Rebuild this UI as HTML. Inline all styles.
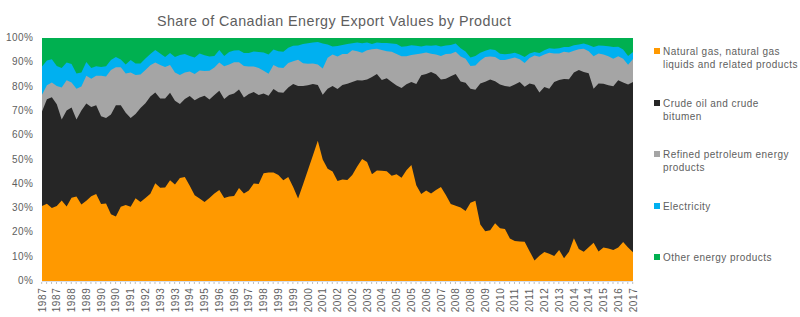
<!DOCTYPE html>
<html><head><meta charset="utf-8"><style>
html,body{margin:0;padding:0;background:#fff;width:800px;height:317px;overflow:hidden;position:relative;}
body{font-family:"Liberation Sans",sans-serif;color:#5E5E5E;}
svg{position:absolute;left:0;top:0;}
.title{position:absolute;left:157px;top:12px;font-size:14.3px;line-height:18px;letter-spacing:0.44px;white-space:nowrap;}
.yl{position:absolute;left:0;width:33.5px;text-align:right;font-size:10px;line-height:12px;letter-spacing:0.5px;}
.xl{position:absolute;top:293.5px;width:30px;height:12px;margin-left:-14.4px;text-align:center;font-size:10px;line-height:12px;letter-spacing:0.6px;transform:rotate(-90deg);transform-origin:50% 50%;}
.lsq{position:absolute;left:654px;width:6px;height:6px;}
.lt{position:absolute;left:663px;font-size:10px;line-height:13.2px;letter-spacing:0.45px;white-space:nowrap;}
</style></head><body>
<svg width="800" height="317" viewBox="0 0 800 317">
<rect x="42.0" y="38.0" width="591.0" height="243.0" fill="#00B050"/>
<polygon fill="#00B0F0" points="42.00,66.50 46.92,60.50 51.85,59.20 56.77,65.90 61.70,68.00 66.62,62.50 71.55,64.00 76.47,73.50 81.40,72.60 86.33,62.10 91.25,68.00 96.17,66.30 101.10,67.10 106.03,66.30 110.95,60.00 115.88,57.00 120.80,59.60 125.72,64.60 130.65,60.00 135.57,63.40 140.50,63.50 145.43,58.40 150.35,54.00 155.28,50.00 160.20,53.40 165.12,57.10 170.05,53.00 174.97,57.10 179.90,55.00 184.82,54.00 189.75,55.90 194.68,57.50 199.60,53.40 204.53,55.30 209.45,56.50 214.38,55.90 219.30,50.00 224.22,55.90 229.15,52.10 234.07,50.60 239.00,50.20 243.93,53.00 248.85,53.00 253.78,51.50 258.70,52.10 263.62,52.50 268.55,54.60 273.48,49.60 278.40,51.20 283.32,51.70 288.25,47.70 293.18,45.80 298.10,45.40 303.02,44.10 307.95,43.30 312.88,42.40 317.80,42.00 322.73,43.60 327.65,44.50 332.57,46.40 337.50,46.00 342.43,44.90 347.35,44.10 352.27,43.30 357.20,42.40 362.12,43.30 367.05,42.40 371.98,43.90 376.90,42.40 381.82,42.90 386.75,42.90 391.68,43.60 396.60,44.10 401.52,46.70 406.45,46.20 411.38,45.20 416.30,45.80 421.23,46.40 426.15,45.40 431.07,45.80 436.00,45.20 440.93,46.40 445.85,45.40 450.77,44.90 455.70,43.60 460.62,48.30 465.55,51.50 470.48,57.50 475.40,55.90 480.32,52.70 485.25,50.80 490.18,49.20 495.10,50.00 500.02,53.70 504.95,54.20 509.88,53.70 514.80,52.70 519.73,54.60 524.65,57.10 529.58,53.40 534.50,52.10 539.42,53.00 544.35,50.20 549.27,48.30 554.20,48.70 559.12,48.30 564.05,47.00 568.98,47.00 573.90,45.20 578.83,44.50 583.75,43.60 588.67,44.90 593.60,47.00 598.52,45.40 603.45,45.80 608.38,46.20 613.30,47.00 618.23,46.70 623.15,49.60 628.08,55.90 633.00,52.10 633.00,281.00 42.00,281.00"/>
<polygon fill="#A5A5A5" points="42.00,94.70 46.92,85.30 51.85,82.50 56.77,85.90 61.70,87.50 66.62,80.20 71.55,82.50 76.47,88.80 81.40,86.50 86.33,75.80 91.25,78.70 96.17,75.80 101.10,75.80 106.03,76.40 110.95,70.10 115.88,67.30 120.80,67.30 125.72,73.60 130.65,72.40 135.57,74.90 140.50,74.50 145.43,70.10 150.35,65.30 155.28,62.50 160.20,65.00 165.12,66.90 170.05,65.00 174.97,72.60 179.90,74.90 184.82,72.40 189.75,71.60 194.68,73.90 199.60,70.40 204.53,71.10 209.45,70.70 214.38,67.60 219.30,62.50 224.22,66.30 229.15,64.40 234.07,62.30 239.00,62.30 243.93,66.10 248.85,66.40 253.78,66.50 258.70,67.90 263.62,70.80 268.55,73.70 273.48,65.10 278.40,67.60 283.32,67.90 288.25,63.00 293.18,61.30 298.10,59.80 303.02,63.20 307.95,63.80 312.88,63.60 317.80,64.40 322.73,68.60 327.65,57.80 332.57,54.50 337.50,56.60 342.43,54.00 347.35,54.00 352.27,50.20 357.20,51.20 362.12,52.70 367.05,50.20 371.98,49.20 376.90,48.70 381.82,49.90 386.75,51.20 391.68,51.70 396.60,54.00 401.52,56.30 406.45,56.30 411.38,55.00 416.30,54.20 421.23,53.40 426.15,52.50 431.07,53.70 436.00,54.60 440.93,55.90 445.85,54.00 450.77,53.70 455.70,51.70 460.62,56.50 465.55,58.80 470.48,66.00 475.40,65.40 480.32,60.60 485.25,57.10 490.18,56.50 495.10,57.10 500.02,60.00 504.95,60.00 509.88,58.80 514.80,57.50 519.73,59.30 524.65,63.00 529.58,58.00 534.50,55.50 539.42,56.80 544.35,54.60 549.27,52.70 554.20,53.40 559.12,53.40 564.05,51.70 568.98,52.50 573.90,50.80 578.83,49.20 583.75,48.70 588.67,51.20 593.60,56.30 598.52,53.40 603.45,54.60 608.38,56.30 613.30,58.80 618.23,56.30 623.15,58.80 628.08,64.70 633.00,59.00 633.00,281.00 42.00,281.00"/>
<polygon fill="#262626" points="42.00,111.50 46.92,99.20 51.85,97.20 56.77,104.30 61.70,119.50 66.62,110.60 71.55,107.60 76.47,119.60 81.40,110.60 86.33,103.50 91.25,107.00 96.17,105.20 101.10,116.20 106.03,118.00 110.95,114.60 115.88,105.20 120.80,105.20 125.72,112.70 130.65,118.00 135.57,114.00 140.50,107.90 145.43,103.30 150.35,96.40 155.28,92.60 160.20,98.60 165.12,98.60 170.05,92.80 174.97,100.80 179.90,103.90 184.82,99.10 189.75,96.10 194.68,100.20 199.60,97.60 204.53,95.70 209.45,99.50 214.38,95.10 219.30,90.70 224.22,98.90 229.15,95.10 234.07,93.60 239.00,89.60 243.93,97.50 248.85,94.00 253.78,92.10 258.70,95.00 263.62,93.60 268.55,95.80 273.48,89.10 278.40,92.30 283.32,92.80 288.25,87.50 293.18,83.90 298.10,86.00 303.02,86.00 307.95,85.20 312.88,83.90 317.80,85.10 322.73,94.80 327.65,88.80 332.57,86.00 337.50,88.90 342.43,85.00 347.35,83.70 352.27,82.10 357.20,80.20 362.12,80.50 367.05,79.60 371.98,77.00 376.90,74.10 381.82,80.00 386.75,78.30 391.68,82.10 396.60,85.50 401.52,88.00 406.45,84.20 411.38,82.10 416.30,84.00 421.23,75.20 426.15,74.10 431.07,72.00 436.00,74.30 440.93,79.60 445.85,78.70 450.77,76.20 455.70,74.10 460.62,81.50 465.55,82.70 470.48,88.80 475.40,89.70 480.32,83.40 485.25,81.70 490.18,79.60 495.10,81.20 500.02,84.60 504.95,85.90 509.88,86.80 514.80,84.60 519.73,82.10 524.65,86.80 529.58,83.40 534.50,84.80 539.42,92.60 544.35,87.10 549.27,88.80 554.20,82.10 559.12,79.90 564.05,78.90 568.98,79.20 573.90,72.60 578.83,70.10 583.75,72.00 588.67,73.30 593.60,88.80 598.52,83.40 603.45,83.70 608.38,85.30 613.30,86.30 618.23,80.20 623.15,82.50 628.08,84.60 633.00,82.10 633.00,281.00 42.00,281.00"/>
<polygon fill="#FF9900" points="42.00,205.90 46.92,203.70 51.85,208.00 56.77,205.90 61.70,200.50 66.62,206.50 71.55,197.70 76.47,196.40 81.40,204.60 86.33,200.80 91.25,196.20 96.17,194.10 101.10,204.00 106.03,203.40 110.95,214.30 115.88,216.60 120.80,206.80 125.72,205.00 130.65,206.80 135.57,198.30 140.50,202.00 145.43,198.10 150.35,193.80 155.28,183.30 160.20,187.70 165.12,187.50 170.05,180.20 174.97,184.60 179.90,177.90 184.82,177.00 189.75,185.80 194.68,195.30 199.60,198.50 204.53,201.90 209.45,198.10 214.38,193.40 219.30,190.00 224.22,198.10 229.15,196.60 234.07,195.90 239.00,188.00 243.93,193.50 248.85,190.60 253.78,183.40 258.70,184.00 263.62,173.30 268.55,172.60 273.48,172.40 278.40,174.90 283.32,180.20 288.25,177.00 293.18,187.10 298.10,198.50 303.02,184.50 307.95,170.00 312.88,155.50 317.80,140.80 322.73,159.50 327.65,168.80 332.57,171.40 337.50,181.00 342.43,179.60 347.35,180.00 352.27,175.00 357.20,166.40 362.12,159.00 367.05,162.00 371.98,174.20 376.90,170.40 381.82,170.80 386.75,171.20 391.68,175.80 396.60,174.20 401.52,177.70 406.45,170.20 411.38,165.10 416.30,185.30 421.23,194.10 426.15,190.60 431.07,193.50 436.00,190.00 440.93,186.90 445.85,195.10 450.77,203.90 455.70,205.80 460.62,207.50 465.55,210.90 470.48,202.70 475.40,200.80 480.32,224.50 485.25,231.20 490.18,230.20 495.10,223.20 500.02,228.30 504.95,228.90 509.88,238.40 514.80,240.90 519.73,241.40 524.65,241.70 529.58,251.20 534.50,260.40 539.42,255.80 544.35,252.00 549.27,253.70 554.20,256.00 559.12,250.00 564.05,258.20 568.98,251.70 573.90,238.20 578.83,249.00 583.75,251.70 588.67,247.20 593.60,242.80 598.52,251.60 603.45,247.60 608.38,248.60 613.30,250.10 618.23,247.60 623.15,241.90 628.08,247.60 633.00,252.30 633.00,281.00 42.00,281.00"/>
<line x1="42.0" y1="281.5" x2="633.0" y2="281.5" stroke="#D6DEEB" stroke-width="1"/>
<line x1="41.70" y1="282" x2="41.70" y2="284" stroke="#BFBFBF" stroke-width="1"/>
<line x1="46.62" y1="282" x2="46.62" y2="284" stroke="#BFBFBF" stroke-width="1"/>
<line x1="51.55" y1="282" x2="51.55" y2="284" stroke="#BFBFBF" stroke-width="1"/>
<line x1="56.48" y1="282" x2="56.48" y2="284" stroke="#BFBFBF" stroke-width="1"/>
<line x1="61.40" y1="282" x2="61.40" y2="284" stroke="#BFBFBF" stroke-width="1"/>
<line x1="66.33" y1="282" x2="66.33" y2="284" stroke="#BFBFBF" stroke-width="1"/>
<line x1="71.25" y1="282" x2="71.25" y2="284" stroke="#BFBFBF" stroke-width="1"/>
<line x1="76.17" y1="282" x2="76.17" y2="284" stroke="#BFBFBF" stroke-width="1"/>
<line x1="81.10" y1="282" x2="81.10" y2="284" stroke="#BFBFBF" stroke-width="1"/>
<line x1="86.03" y1="282" x2="86.03" y2="284" stroke="#BFBFBF" stroke-width="1"/>
<line x1="90.95" y1="282" x2="90.95" y2="284" stroke="#BFBFBF" stroke-width="1"/>
<line x1="95.88" y1="282" x2="95.88" y2="284" stroke="#BFBFBF" stroke-width="1"/>
<line x1="100.80" y1="282" x2="100.80" y2="284" stroke="#BFBFBF" stroke-width="1"/>
<line x1="105.73" y1="282" x2="105.73" y2="284" stroke="#BFBFBF" stroke-width="1"/>
<line x1="110.65" y1="282" x2="110.65" y2="284" stroke="#BFBFBF" stroke-width="1"/>
<line x1="115.58" y1="282" x2="115.58" y2="284" stroke="#BFBFBF" stroke-width="1"/>
<line x1="120.50" y1="282" x2="120.50" y2="284" stroke="#BFBFBF" stroke-width="1"/>
<line x1="125.42" y1="282" x2="125.42" y2="284" stroke="#BFBFBF" stroke-width="1"/>
<line x1="130.35" y1="282" x2="130.35" y2="284" stroke="#BFBFBF" stroke-width="1"/>
<line x1="135.27" y1="282" x2="135.27" y2="284" stroke="#BFBFBF" stroke-width="1"/>
<line x1="140.20" y1="282" x2="140.20" y2="284" stroke="#BFBFBF" stroke-width="1"/>
<line x1="145.12" y1="282" x2="145.12" y2="284" stroke="#BFBFBF" stroke-width="1"/>
<line x1="150.05" y1="282" x2="150.05" y2="284" stroke="#BFBFBF" stroke-width="1"/>
<line x1="154.97" y1="282" x2="154.97" y2="284" stroke="#BFBFBF" stroke-width="1"/>
<line x1="159.90" y1="282" x2="159.90" y2="284" stroke="#BFBFBF" stroke-width="1"/>
<line x1="164.82" y1="282" x2="164.82" y2="284" stroke="#BFBFBF" stroke-width="1"/>
<line x1="169.75" y1="282" x2="169.75" y2="284" stroke="#BFBFBF" stroke-width="1"/>
<line x1="174.67" y1="282" x2="174.67" y2="284" stroke="#BFBFBF" stroke-width="1"/>
<line x1="179.60" y1="282" x2="179.60" y2="284" stroke="#BFBFBF" stroke-width="1"/>
<line x1="184.52" y1="282" x2="184.52" y2="284" stroke="#BFBFBF" stroke-width="1"/>
<line x1="189.45" y1="282" x2="189.45" y2="284" stroke="#BFBFBF" stroke-width="1"/>
<line x1="194.38" y1="282" x2="194.38" y2="284" stroke="#BFBFBF" stroke-width="1"/>
<line x1="199.30" y1="282" x2="199.30" y2="284" stroke="#BFBFBF" stroke-width="1"/>
<line x1="204.22" y1="282" x2="204.22" y2="284" stroke="#BFBFBF" stroke-width="1"/>
<line x1="209.15" y1="282" x2="209.15" y2="284" stroke="#BFBFBF" stroke-width="1"/>
<line x1="214.07" y1="282" x2="214.07" y2="284" stroke="#BFBFBF" stroke-width="1"/>
<line x1="219.00" y1="282" x2="219.00" y2="284" stroke="#BFBFBF" stroke-width="1"/>
<line x1="223.92" y1="282" x2="223.92" y2="284" stroke="#BFBFBF" stroke-width="1"/>
<line x1="228.85" y1="282" x2="228.85" y2="284" stroke="#BFBFBF" stroke-width="1"/>
<line x1="233.77" y1="282" x2="233.77" y2="284" stroke="#BFBFBF" stroke-width="1"/>
<line x1="238.70" y1="282" x2="238.70" y2="284" stroke="#BFBFBF" stroke-width="1"/>
<line x1="243.62" y1="282" x2="243.62" y2="284" stroke="#BFBFBF" stroke-width="1"/>
<line x1="248.55" y1="282" x2="248.55" y2="284" stroke="#BFBFBF" stroke-width="1"/>
<line x1="253.47" y1="282" x2="253.47" y2="284" stroke="#BFBFBF" stroke-width="1"/>
<line x1="258.40" y1="282" x2="258.40" y2="284" stroke="#BFBFBF" stroke-width="1"/>
<line x1="263.32" y1="282" x2="263.32" y2="284" stroke="#BFBFBF" stroke-width="1"/>
<line x1="268.25" y1="282" x2="268.25" y2="284" stroke="#BFBFBF" stroke-width="1"/>
<line x1="273.18" y1="282" x2="273.18" y2="284" stroke="#BFBFBF" stroke-width="1"/>
<line x1="278.10" y1="282" x2="278.10" y2="284" stroke="#BFBFBF" stroke-width="1"/>
<line x1="283.02" y1="282" x2="283.02" y2="284" stroke="#BFBFBF" stroke-width="1"/>
<line x1="287.95" y1="282" x2="287.95" y2="284" stroke="#BFBFBF" stroke-width="1"/>
<line x1="292.88" y1="282" x2="292.88" y2="284" stroke="#BFBFBF" stroke-width="1"/>
<line x1="297.80" y1="282" x2="297.80" y2="284" stroke="#BFBFBF" stroke-width="1"/>
<line x1="302.72" y1="282" x2="302.72" y2="284" stroke="#BFBFBF" stroke-width="1"/>
<line x1="307.65" y1="282" x2="307.65" y2="284" stroke="#BFBFBF" stroke-width="1"/>
<line x1="312.57" y1="282" x2="312.57" y2="284" stroke="#BFBFBF" stroke-width="1"/>
<line x1="317.50" y1="282" x2="317.50" y2="284" stroke="#BFBFBF" stroke-width="1"/>
<line x1="322.43" y1="282" x2="322.43" y2="284" stroke="#BFBFBF" stroke-width="1"/>
<line x1="327.35" y1="282" x2="327.35" y2="284" stroke="#BFBFBF" stroke-width="1"/>
<line x1="332.27" y1="282" x2="332.27" y2="284" stroke="#BFBFBF" stroke-width="1"/>
<line x1="337.20" y1="282" x2="337.20" y2="284" stroke="#BFBFBF" stroke-width="1"/>
<line x1="342.12" y1="282" x2="342.12" y2="284" stroke="#BFBFBF" stroke-width="1"/>
<line x1="347.05" y1="282" x2="347.05" y2="284" stroke="#BFBFBF" stroke-width="1"/>
<line x1="351.97" y1="282" x2="351.97" y2="284" stroke="#BFBFBF" stroke-width="1"/>
<line x1="356.90" y1="282" x2="356.90" y2="284" stroke="#BFBFBF" stroke-width="1"/>
<line x1="361.82" y1="282" x2="361.82" y2="284" stroke="#BFBFBF" stroke-width="1"/>
<line x1="366.75" y1="282" x2="366.75" y2="284" stroke="#BFBFBF" stroke-width="1"/>
<line x1="371.68" y1="282" x2="371.68" y2="284" stroke="#BFBFBF" stroke-width="1"/>
<line x1="376.60" y1="282" x2="376.60" y2="284" stroke="#BFBFBF" stroke-width="1"/>
<line x1="381.52" y1="282" x2="381.52" y2="284" stroke="#BFBFBF" stroke-width="1"/>
<line x1="386.45" y1="282" x2="386.45" y2="284" stroke="#BFBFBF" stroke-width="1"/>
<line x1="391.38" y1="282" x2="391.38" y2="284" stroke="#BFBFBF" stroke-width="1"/>
<line x1="396.30" y1="282" x2="396.30" y2="284" stroke="#BFBFBF" stroke-width="1"/>
<line x1="401.22" y1="282" x2="401.22" y2="284" stroke="#BFBFBF" stroke-width="1"/>
<line x1="406.15" y1="282" x2="406.15" y2="284" stroke="#BFBFBF" stroke-width="1"/>
<line x1="411.07" y1="282" x2="411.07" y2="284" stroke="#BFBFBF" stroke-width="1"/>
<line x1="416.00" y1="282" x2="416.00" y2="284" stroke="#BFBFBF" stroke-width="1"/>
<line x1="420.93" y1="282" x2="420.93" y2="284" stroke="#BFBFBF" stroke-width="1"/>
<line x1="425.85" y1="282" x2="425.85" y2="284" stroke="#BFBFBF" stroke-width="1"/>
<line x1="430.77" y1="282" x2="430.77" y2="284" stroke="#BFBFBF" stroke-width="1"/>
<line x1="435.70" y1="282" x2="435.70" y2="284" stroke="#BFBFBF" stroke-width="1"/>
<line x1="440.62" y1="282" x2="440.62" y2="284" stroke="#BFBFBF" stroke-width="1"/>
<line x1="445.55" y1="282" x2="445.55" y2="284" stroke="#BFBFBF" stroke-width="1"/>
<line x1="450.47" y1="282" x2="450.47" y2="284" stroke="#BFBFBF" stroke-width="1"/>
<line x1="455.40" y1="282" x2="455.40" y2="284" stroke="#BFBFBF" stroke-width="1"/>
<line x1="460.32" y1="282" x2="460.32" y2="284" stroke="#BFBFBF" stroke-width="1"/>
<line x1="465.25" y1="282" x2="465.25" y2="284" stroke="#BFBFBF" stroke-width="1"/>
<line x1="470.18" y1="282" x2="470.18" y2="284" stroke="#BFBFBF" stroke-width="1"/>
<line x1="475.10" y1="282" x2="475.10" y2="284" stroke="#BFBFBF" stroke-width="1"/>
<line x1="480.02" y1="282" x2="480.02" y2="284" stroke="#BFBFBF" stroke-width="1"/>
<line x1="484.95" y1="282" x2="484.95" y2="284" stroke="#BFBFBF" stroke-width="1"/>
<line x1="489.88" y1="282" x2="489.88" y2="284" stroke="#BFBFBF" stroke-width="1"/>
<line x1="494.80" y1="282" x2="494.80" y2="284" stroke="#BFBFBF" stroke-width="1"/>
<line x1="499.72" y1="282" x2="499.72" y2="284" stroke="#BFBFBF" stroke-width="1"/>
<line x1="504.65" y1="282" x2="504.65" y2="284" stroke="#BFBFBF" stroke-width="1"/>
<line x1="509.57" y1="282" x2="509.57" y2="284" stroke="#BFBFBF" stroke-width="1"/>
<line x1="514.50" y1="282" x2="514.50" y2="284" stroke="#BFBFBF" stroke-width="1"/>
<line x1="519.43" y1="282" x2="519.43" y2="284" stroke="#BFBFBF" stroke-width="1"/>
<line x1="524.35" y1="282" x2="524.35" y2="284" stroke="#BFBFBF" stroke-width="1"/>
<line x1="529.28" y1="282" x2="529.28" y2="284" stroke="#BFBFBF" stroke-width="1"/>
<line x1="534.20" y1="282" x2="534.20" y2="284" stroke="#BFBFBF" stroke-width="1"/>
<line x1="539.12" y1="282" x2="539.12" y2="284" stroke="#BFBFBF" stroke-width="1"/>
<line x1="544.05" y1="282" x2="544.05" y2="284" stroke="#BFBFBF" stroke-width="1"/>
<line x1="548.98" y1="282" x2="548.98" y2="284" stroke="#BFBFBF" stroke-width="1"/>
<line x1="553.90" y1="282" x2="553.90" y2="284" stroke="#BFBFBF" stroke-width="1"/>
<line x1="558.83" y1="282" x2="558.83" y2="284" stroke="#BFBFBF" stroke-width="1"/>
<line x1="563.75" y1="282" x2="563.75" y2="284" stroke="#BFBFBF" stroke-width="1"/>
<line x1="568.68" y1="282" x2="568.68" y2="284" stroke="#BFBFBF" stroke-width="1"/>
<line x1="573.60" y1="282" x2="573.60" y2="284" stroke="#BFBFBF" stroke-width="1"/>
<line x1="578.53" y1="282" x2="578.53" y2="284" stroke="#BFBFBF" stroke-width="1"/>
<line x1="583.45" y1="282" x2="583.45" y2="284" stroke="#BFBFBF" stroke-width="1"/>
<line x1="588.38" y1="282" x2="588.38" y2="284" stroke="#BFBFBF" stroke-width="1"/>
<line x1="593.30" y1="282" x2="593.30" y2="284" stroke="#BFBFBF" stroke-width="1"/>
<line x1="598.23" y1="282" x2="598.23" y2="284" stroke="#BFBFBF" stroke-width="1"/>
<line x1="603.15" y1="282" x2="603.15" y2="284" stroke="#BFBFBF" stroke-width="1"/>
<line x1="608.08" y1="282" x2="608.08" y2="284" stroke="#BFBFBF" stroke-width="1"/>
<line x1="613.00" y1="282" x2="613.00" y2="284" stroke="#BFBFBF" stroke-width="1"/>
<line x1="617.93" y1="282" x2="617.93" y2="284" stroke="#BFBFBF" stroke-width="1"/>
<line x1="622.85" y1="282" x2="622.85" y2="284" stroke="#BFBFBF" stroke-width="1"/>
<line x1="627.78" y1="282" x2="627.78" y2="284" stroke="#BFBFBF" stroke-width="1"/>
<line x1="632.70" y1="282" x2="632.70" y2="284" stroke="#BFBFBF" stroke-width="1"/>
</svg>
<div class="title">Share of Canadian Energy Export Values by Product</div>
<div class="yl" style="top:275.0px">0%</div><div class="yl" style="top:250.7px">10%</div><div class="yl" style="top:226.4px">20%</div><div class="yl" style="top:202.1px">30%</div><div class="yl" style="top:177.8px">40%</div><div class="yl" style="top:153.5px">50%</div><div class="yl" style="top:129.2px">60%</div><div class="yl" style="top:104.9px">70%</div><div class="yl" style="top:80.6px">80%</div><div class="yl" style="top:56.3px">90%</div><div class="yl" style="top:32.0px">100%</div>
<div class="xl" style="left:42.00px">1987</div><div class="xl" style="left:56.77px">1987</div><div class="xl" style="left:71.55px">1988</div><div class="xl" style="left:86.33px">1989</div><div class="xl" style="left:101.10px">1990</div><div class="xl" style="left:115.88px">1990</div><div class="xl" style="left:130.65px">1991</div><div class="xl" style="left:145.43px">1992</div><div class="xl" style="left:160.20px">1993</div><div class="xl" style="left:174.97px">1993</div><div class="xl" style="left:189.75px">1994</div><div class="xl" style="left:204.53px">1995</div><div class="xl" style="left:219.30px">1996</div><div class="xl" style="left:234.07px">1996</div><div class="xl" style="left:248.85px">1997</div><div class="xl" style="left:263.62px">1998</div><div class="xl" style="left:278.40px">1999</div><div class="xl" style="left:293.18px">1999</div><div class="xl" style="left:307.95px">2000</div><div class="xl" style="left:322.73px">2001</div><div class="xl" style="left:337.50px">2002</div><div class="xl" style="left:352.27px">2002</div><div class="xl" style="left:367.05px">2003</div><div class="xl" style="left:381.82px">2004</div><div class="xl" style="left:396.60px">2005</div><div class="xl" style="left:411.38px">2005</div><div class="xl" style="left:426.15px">2006</div><div class="xl" style="left:440.93px">2007</div><div class="xl" style="left:455.70px">2008</div><div class="xl" style="left:470.48px">2008</div><div class="xl" style="left:485.25px">2009</div><div class="xl" style="left:500.02px">2010</div><div class="xl" style="left:514.80px">2011</div><div class="xl" style="left:529.58px">2011</div><div class="xl" style="left:544.35px">2012</div><div class="xl" style="left:559.12px">2013</div><div class="xl" style="left:573.90px">2014</div><div class="xl" style="left:588.67px">2014</div><div class="xl" style="left:603.45px">2015</div><div class="xl" style="left:618.23px">2016</div><div class="xl" style="left:633.00px">2017</div>
<div class="lsq" style="top:48px;background:#FF9900"></div><div class="lt" style="top:45.0px">Natural gas, natural gas<br>liquids and related products</div><div class="lsq" style="top:100px;background:#262626"></div><div class="lt" style="top:96.8px">Crude oil and crude<br>bitumen</div><div class="lsq" style="top:151px;background:#A5A5A5"></div><div class="lt" style="top:147.8px">Refined petroleum energy<br>products</div><div class="lsq" style="top:203px;background:#00B0F0"></div><div class="lt" style="top:199.6px">Electricity</div><div class="lsq" style="top:254px;background:#00B050"></div><div class="lt" style="top:250.8px">Other energy products</div>
</body></html>
